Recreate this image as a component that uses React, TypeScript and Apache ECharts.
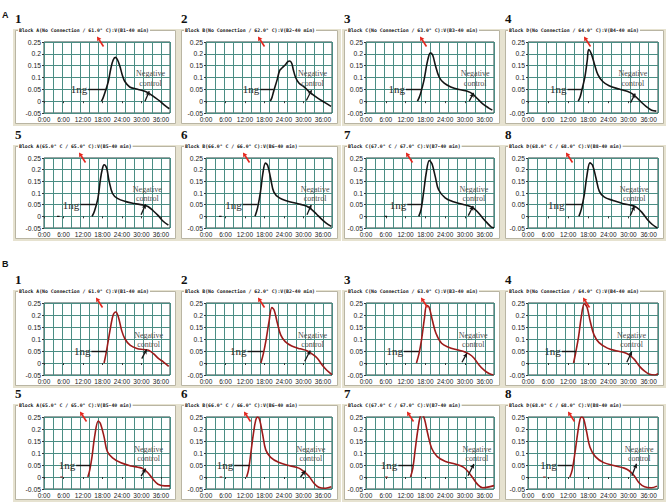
import React, { useEffect, useRef } from "react";
import * as echarts from "echarts";

// ---------------- data ----------------
const sectionLabels = ["A", "B"];
const panelNumbers = ["1", "2", "3", "4", "5", "6", "7", "8"];
const panelTitles = [
  "Block A(No Connection / 61.0° C):V(B1-40 min)",
  "Block B(No Connection / 62.0° C):V(B2-40 min)",
  "Block C(No Connection / 63.0° C):V(B3-40 min)",
  "Block D(No Connection / 64.0° C):V(B4-40 min)",
  "Block A(65.0° C / 65.0° C):V(B5-40 min)",
  "Block B(66.0° C / 66.0° C):V(B6-40 min)",
  "Block C(67.0° C / 67.0° C):V(B7-40 min)",
  "Block D(68.0° C / 68.0° C):V(B8-40 min)",
];
const xMin = 0;
const xMax = 38.8;
const yMin = -0.05;
const yMax = 0.25;
const yStep = 0.05;
const xLabelStep = 6;
const gridDivisions = 14;

// turbidity curves [minute, value] — section A
const curveA1 = [[17.7,0],[18.2,0.014],[19,0.046],[19.8,0.083],[20.6,0.139],[21.3,0.174],[22,0.185],[22.6,0.176],[23.4,0.146],[24.1,0.111],[24.9,0.083],[26.4,0.06],[28.5,0.051],[30,0.046],[31.6,0.039],[32.6,0.031],[33.6,0.021],[35.7,0],[37.2,-0.018],[38.6,-0.032]];
const curveA2 = [[19.8,0],[20.3,0.015],[20.8,0.04],[21.9,0.09],[22.7,0.13],[23.4,0.14],[24.5,0.155],[25.2,0.167],[25.8,0.17],[26.4,0.16],[26.9,0.132],[27.6,0.1],[28.6,0.077],[30.2,0.06],[32.3,0.034],[34.4,0.013],[36.5,-0.005],[38.5,-0.022]];
const curveA3 = [[15.6,0],[16.1,0.015],[16.6,0.035],[17.6,0.09],[18.4,0.153],[19,0.19],[19.5,0.204],[20.2,0.195],[21,0.153],[22.2,0.101],[23.7,0.076],[25.7,0.06],[28.2,0.049],[30.7,0.042],[32.3,0.031],[33.8,0.01],[35.3,-0.01],[37.1,-0.028],[38.3,-0.038]];
const curveA4 = [[15,0],[15.5,0.015],[16,0.042],[17,0.104],[17.7,0.174],[18.1,0.218],[18.9,0.2],[19.9,0.153],[20.9,0.111],[22.3,0.083],[24.2,0.065],[27.2,0.051],[29.6,0.042],[31.5,0.028],[33.5,0],[35.4,-0.024],[36.9,-0.038],[38.3,-0.042]];
const curveA5 = [[14.8,0],[15.5,0.021],[16.6,0.077],[17.4,0.161],[18,0.205],[18.5,0.221],[19.3,0.206],[20,0.154],[21.1,0.098],[22.6,0.077],[25.2,0.063],[27.8,0.055],[30.4,0.049],[32,0.042],[33.6,0.024],[35.1,0.004],[36.7,-0.021],[38.3,-0.038]];
const curveA6 = [[15.1,0],[15.9,0.0375],[16.8,0.107],[17.5,0.183],[18.3,0.228],[19,0.218],[19.9,0.163],[20.9,0.104],[22.6,0.079],[25.2,0.065],[28.3,0.054],[30.9,0.044],[32.4,0.031],[34,0.01],[35.5,-0.011],[37,-0.029],[38.6,-0.043]];
const curveA7 = [[16,0],[16.7,0.03],[17.5,0.107],[18.3,0.19],[19.2,0.239],[20,0.225],[21,0.17],[22,0.114],[24,0.079],[26.5,0.062],[29.5,0.051],[32,0.04],[33.5,0.024],[35,-0.001],[36.5,-0.025],[38,-0.046],[38.8,-0.049]];
const curveA8 = [[15.2,0],[15.9,0.03],[16.8,0.093],[17.6,0.176],[18.5,0.229],[19.3,0.218],[20.3,0.163],[21.3,0.107],[22.8,0.082],[25.4,0.068],[28.4,0.054],[31,0.047],[32.5,0.0375],[34,0.017],[35.5,-0.011],[37.1,-0.035],[38.6,-0.05]];
// section B
const curveB1 = [[18.5,0],[19.1,0.039],[19.8,0.094],[20.6,0.157],[21.3,0.2],[22.1,0.2125],[22.9,0.192],[23.9,0.136],[24.9,0.101],[26.5,0.074],[28.6,0.06],[30.6,0.056],[32.2,0.053],[33.7,0.039],[35.3,0.018],[36.8,0.004],[38.4,-0.014]];
const curveB2 = [[16.9,0],[17.7,0.041],[18.5,0.096],[19.4,0.172],[20.3,0.231],[21,0.22],[22,0.165],[23,0.117],[24.4,0.089],[26.4,0.071],[29,0.059],[31.1,0.051],[32.6,0.038],[34.2,0.021],[35.7,-0.007],[37.2,-0.03],[38.8,-0.048]];
const curveB3 = [[15.3,0],[16.1,0.041],[16.9,0.103],[17.7,0.185],[18.4,0.24],[19.1,0.233],[20.1,0.179],[21.2,0.124],[22.9,0.082],[25,0.066],[27.6,0.055],[29.6,0.048],[31.2,0.038],[32.7,0.021],[34.2,-0.007],[35.8,-0.03],[37.3,-0.044],[38.6,-0.05]];
const curveB4 = [[13.6,0],[14.3,0.048],[15.1,0.11],[15.9,0.192],[16.8,0.247],[17.6,0.233],[18.6,0.172],[19.7,0.117],[21.2,0.085],[23.7,0.062],[26.2,0.051],[28.7,0.044],[30.2,0.034],[31.8,0.014],[33.3,-0.014],[34.8,-0.034],[36.3,-0.047],[37.8,-0.05],[38.8,-0.044]];
const curveB5 = [[13.5,0],[14.1,0.03],[14.8,0.086],[15.6,0.169],[16.7,0.233],[17.4,0.222],[18.5,0.167],[19.5,0.106],[21.1,0.08],[23.7,0.059],[26.8,0.046],[28.9,0.041],[30.4,0.035],[32,0.018],[33.6,-0.01],[35.1,-0.03],[37.2,-0.037],[38.8,-0.037]];
const curveB6 = [[12.5,0],[13.1,0.03],[13.8,0.099],[14.6,0.181],[15.3,0.236],[15.9,0.25],[16.5,0.239],[17.4,0.181],[18.4,0.113],[19.9,0.082],[22.5,0.06],[25.5,0.048],[28.6,0.037],[30.1,0.023],[31.7,0.003],[33.2,-0.025],[34.7,-0.043],[36.8,-0.047],[38.6,-0.041]];
const curveB7 = [[13.5,0],[14.2,0.037],[14.9,0.113],[15.7,0.195],[16.4,0.25],[17,0.257],[17.7,0.243],[18.7,0.181],[19.9,0.12],[21.6,0.085],[24.1,0.065],[27,0.054],[29.5,0.041],[30.9,0.023],[32.4,-0.004],[33.9,-0.032],[35.4,-0.045],[37.3,-0.041],[38.8,-0.036]];
const curveB8 = [[12.5,0],[13.2,0.03],[14,0.099],[14.8,0.181],[15.5,0.239],[16,0.25],[16.6,0.243],[17.5,0.188],[18.5,0.124],[20.1,0.085],[22.6,0.06],[25.6,0.048],[28.7,0.037],[30.2,0.026],[31.7,0.005],[33.2,-0.025],[34.8,-0.041],[36.8,-0.045],[38.5,-0.038]];

const curves = [curveA1, curveA2, curveA3, curveA4, curveA5, curveA6, curveA7, curveA8,
  curveB1, curveB2, curveB3, curveB4, curveB5, curveB6, curveB7, curveB8];

// "1ng" pointer line [from minute, to minute] at level 0.05
const ngLevel = 0.05;
const ngLine = [[13.6,19.2],[16.7,20.8],[12.1,16.9],[11.8,16.1],[11.2,15.9],[11.3,15.8],[12.5,16.9],[11.2,16.2],
  [14.6,19.2],[12.8,17.6],[11.5,16],[10.1,14.3],[9.9,14.3],[8.7,13.4],[9.8,14.3],[8.9,13.2]];
// negative control arrow [tail t, tail v, tip t, tip v]
const negArrow = [[31.1,0,32.4,0.042],[30.9,0.003,32.5,0.046],[31.3,0,32.6,0.035],[30.6,-0.007,32,0.032],
  [29.9,0.007,31.3,0.052],[31.1,0.007,32.4,0.049],[31,0.003,32.5,0.044],[30.5,0.003,31.8,0.044],
  [30.1,0.018,31.6,0.056],[30.4,0.007,32.1,0.052],[29.1,0.003,30.6,0.041],[29.5,0.003,31,0.048],
  [29.9,0.004,31.3,0.035],[29.1,0,30.6,0.026],[30.9,0.005,32.7,0.054],[31,0.005,32.4,0.055]];
const negTextX = [32.8,32.8,33.1,31.3,31.8,33.6,32.7,31.7,32.2,32.8,32.5,30.9,32.2,32.3,33.6,33.2];
const negTextY = 0.095;
// small blip on the baseline (minute), null when absent
const blipX = [null,null,null,null,4.4,4.4,6,null,null,null,null,null,5.4,4.6,6.2,4.9];

// ---------------- layout ----------------
const gridLefts = [44, 206, 366, 528];
const gridRights = [170, 332, 494, 658];
const gridTops = [42, 158, 303, 417];
const gridHeights = [71, 70, 72, 72];
const frameLefts = [15, 181, 344, 505];
const arrowDx = [[53, 52, 54, 56], [35, 37, 40, 38], [52, 52, 55, 55], [36, 38, 41, 40]];
const sectionY = [15, 264];

const GRID_LINE = "#4b8d84";
const FRAME_BEIGE = "#e6e2d0";
const FRAME_LINE = "#b9b5a3";
const RED = "#e3261d";
const curveColors = ["#141414", "#9c1a1a"];
const SERIF = '"Liberation Serif", "Times New Roman", serif';

function panelPos(p: number) {
  const sec = p >> 3;
  const k = p % 8;
  const row = sec * 2 + (k >= 4 ? 1 : 0);
  const col = k % 4;
  return { sec, k, row, col };
}

function buildOption() {
  const grid: any[] = [];
  const xAxis: any[] = [];
  const yAxis: any[] = [];
  const series: any[] = [];
  const graphic: any[] = [];

  sectionLabels.forEach((s, i) => {
    graphic.push({
      type: "text", x: 2, y: sectionY[i], z: 50,
      style: { text: s, fill: "#111", font: 'bold 9px "Liberation Sans", Arial, sans-serif', align: "left", verticalAlign: "middle" },
    });
  });

  for (let p = 0; p < 16; p++) {
    const { sec, k, row, col } = panelPos(p);
    const gl = gridLefts[col];
    const gr = gridRights[col];
    const gt = gridTops[row];
    const gh = gridHeights[row];
    const gb = gt + gh;
    const fl = frameLefts[col];
    const titleY = gt - 12;

    graphic.push({
      type: "rect", z: -20,
      shape: { x: fl - 2, y: titleY - 1, width: gr + 9 - (fl - 2), height: gb + 13 - (titleY - 1) },
      style: { fill: FRAME_BEIGE, stroke: null },
    });
    graphic.push({
      type: "rect", z: -19,
      shape: { x: fl + 0.5, y: titleY + 0.5, width: gr + 5 - fl, height: gb + 10 - titleY },
      style: { fill: "#ffffff", stroke: FRAME_LINE, lineWidth: 1 },
    });
    graphic.push({
      type: "text", x: fl + 3, y: titleY + 0.5, z: 20,
      style: {
        text: panelTitles[k], fill: "#111",
        font: 'bold 4.8px "DejaVu Sans Mono", monospace',
        align: "left", verticalAlign: "middle",
        backgroundColor: "#ffffff", padding: [0, 1],
      },
    });
    graphic.push({
      type: "text", x: fl, y: gt - 17, z: 20,
      style: { text: panelNumbers[k], fill: "#111", font: "bold 13px " + SERIF, align: "left", verticalAlign: "bottom" },
    });
    const hx = gl + arrowDx[row][col];
    const hy = gt - 5.5;
    const tx = hx + 6.5;
    const ty = hy + 10;
    const len = Math.hypot(tx - hx, ty - hy);
    const ux = (hx - tx) / len, uy = (hy - ty) / len;
    const px = -uy, py = ux;
    const bx = hx - ux * 4.2, by = hy - uy * 4.2;
    graphic.push({ type: "line", z: 30, shape: { x1: tx, y1: ty, x2: bx, y2: by }, style: { stroke: RED, lineWidth: 1.6 } });
    graphic.push({
      type: "polygon", z: 30,
      shape: { points: [[hx, hy], [bx + px * 2.4, by + py * 2.4], [bx - px * 2.4, by - py * 2.4]] },
      style: { fill: RED },
    });

    grid.push({
      left: gl, top: gt, width: gr - gl, height: gh,
      show: true, backgroundColor: "#ffffff", borderColor: "#2c4743", borderWidth: 1,
    });
    xAxis.push({
      gridIndex: p, type: "value", min: xMin, max: xMax, interval: xLabelStep,
      axisLine: { show: false },
      axisTick: { show: true, length: 2, lineStyle: { color: "#333" } },
      axisLabel: {
        fontSize: 6.5, color: "#222", margin: 3, fontFamily: '"Liberation Sans", Arial, sans-serif',
        showMaxLabel: false,
        formatter: (v: number) => (v % xLabelStep === 0 ? `${v}:00` : ""),
      },
      splitLine: { show: false },
    });
    xAxis.push({
      gridIndex: p, type: "value", min: 0, max: gridDivisions, interval: 1, position: "top",
      axisLine: { show: false }, axisTick: { show: false }, axisLabel: { show: false },
      splitLine: { show: true, lineStyle: { color: GRID_LINE, width: 1 } },
    });
    yAxis.push({
      gridIndex: p, type: "value", min: yMin, max: yMax, interval: yStep,
      axisLine: { show: false },
      axisTick: { show: true, length: 2, lineStyle: { color: "#333" } },
      axisLabel: { fontSize: 6.8, color: "#222", margin: 3, fontFamily: '"Liberation Sans", Arial, sans-serif' },
      splitLine: { show: true, lineStyle: { color: GRID_LINE, width: 1 } },
    });

    const color = curveColors[sec];
    const [nA, nB] = ngLine[p];
    const [tt, tv, pt, pv] = negArrow[p];
    series.push({
      type: "line", xAxisIndex: p * 2, yAxisIndex: p,
      data: curves[p], showSymbol: false, smooth: 0.35, z: 5,
      itemStyle: { color },
      lineStyle: { color, width: 1.6 },
      markLine: {
        silent: true, symbol: ["none", "none"], z: 8,
        lineStyle: { color: "#161616", width: 1.3, type: "solid", opacity: 1 },
        label: { show: false },
        emphasis: { disabled: true },
        data: [
          [
            { coord: [nA, ngLevel], lineStyle: { color: "#161616", width: 1.4 }, label: { show: true, position: "start", distance: 1, formatter: "1ng", color: "#2a2a2a", fontSize: 11, fontFamily: SERIF } },
            { coord: [nB, ngLevel] },
          ],
          [
            { coord: [tt, tv], symbol: "none" },
            { coord: [pt, pv], symbol: "arrow", symbolSize: [3.5, 4.5] },
          ],
        ],
      },
    });
    const b = blipX[p];
    if (b !== null) {
      series.push({
        type: "line", xAxisIndex: p * 2, yAxisIndex: p, showSymbol: false, z: 5,
        data: [[b - 0.4, 0], [b + 0.4, 0]], itemStyle: { color }, lineStyle: { color, width: 1.2 },
      });
    }
  }

  return { animation: false, backgroundColor: "#ffffff", grid, xAxis, yAxis, series, graphic };
}

export default function App() {
  const ref = useRef<HTMLDivElement>(null);
  useEffect(() => {
    const chart = echarts.init(ref.current!, null, { renderer: "svg" });
    const option: any = buildOption();
    chart.setOption(option);
    // place the "Negative control" notes through each panel's own scales
    const notes: any[] = [];
    for (let p = 0; p < 16; p++) {
      const pos = chart.convertToPixel({ xAxisIndex: p * 2, yAxisIndex: p } as any, [negTextX[p], negTextY]) as number[];
      notes.push({
        type: "text", x: pos[0], y: pos[1], z: 40,
        style: {
          text: "Negative\ncontrol", fill: "#4d4d4d", font: "8px " + SERIF,
          align: "center", verticalAlign: "middle", lineHeight: 9.5,
        },
      });
    }
    chart.setOption({ graphic: [...option.graphic, ...notes] });
    return () => chart.dispose();
  }, []);
  return <div ref={ref} style={{ position: "absolute", left: 0, top: 0, width: 666, height: 504 }} />;
}
